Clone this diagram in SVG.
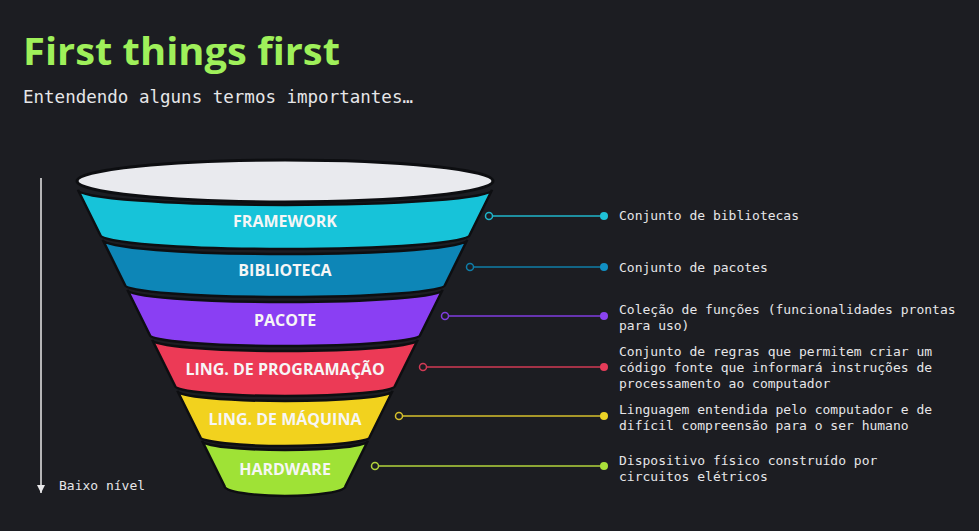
<svg xmlns="http://www.w3.org/2000/svg" width="979" height="531" viewBox="0 0 979 531">
<defs>
<style>
.band{stroke:#0d0e11;stroke-width:2.5;}
.lbl{font-family:"Open Sans","Noto Sans",sans-serif;font-weight:700;font-size:16px;fill:#f6f6f6;text-anchor:middle;}
.desc{font-family:"DejaVu Sans Mono","Liberation Mono",monospace;font-size:13px;fill:#e6e6e8;}
.ring{fill:#1c1d22;stroke-width:1.5;}
.ln{stroke-width:1.6;}
</style>
<marker id="ah" viewBox="0 0 10 10" refX="10" refY="5" markerWidth="10" markerHeight="8" markerUnits="userSpaceOnUse" orient="auto">
<path d="M0,0 L10,5 L0,10 Z" fill="#e8e8ea"/>
</marker>
</defs>
<rect width="979" height="531" fill="#1c1d22"/>
<text x="23" y="65" font-family="'Open Sans','Noto Sans',sans-serif" font-weight="700" font-size="38" fill="#9ff05a" textLength="317" lengthAdjust="spacingAndGlyphs">First things first</text>
<text x="23" y="103" font-family="'DejaVu Sans Mono','Liberation Mono',monospace" font-size="17" fill="#e6e6e8" textLength="390" lengthAdjust="spacingAndGlyphs">Entendendo alguns termos importantes…</text>

<g id="axis">
<line x1="41" y1="178" x2="41" y2="493" stroke="#e8e8ea" stroke-width="1.5" marker-end="url(#ah)"/>
<text x="59" y="490" class="desc">Baixo nível</text>
</g>

<g id="funnel-top">
<ellipse cx="285" cy="181" rx="208" ry="21" fill="#e9eaee" stroke="#0d0e11" stroke-width="3"/>
</g>
<g id="framework">
<path class="band" fill="#17c3d9" d="M78,190 A207,15 0 0 0 492,190 L469.7,235 A184.7,14 0 0 1 100.3,235 Z"/>
<text x="285" y="227" class="lbl">FRAMEWORK</text>
</g>
<g id="biblioteca">
<path class="band" fill="#0d86b7" d="M102.8,240 A182.2,14 0 0 0 467.2,240 L445,285 A160,12 0 0 1 125,285 Z"/>
<text x="285" y="276" class="lbl">BIBLIOTECA</text>
</g>
<g id="pacote">
<path class="band" fill="#8a3ff3" d="M127.5,290 A157.5,12 0 0 0 442.5,290 L420.2,335 A135.2,11 0 0 1 149.8,335 Z"/>
<text x="285" y="326" class="lbl">PACOTE</text>
</g>
<g id="ling-programacao">
<path class="band" fill="#ec3a56" d="M152.3,340 A132.7,11 0 0 0 417.7,340 L394.9,386 A109.9,10 0 0 1 175.1,386 Z"/>
<text x="285" y="375" class="lbl">LING. DE PROGRAMAÇÃO</text>
</g>
<g id="ling-maquina">
<path class="band" fill="#f2d21e" d="M177.5,391 A107.5,10 0 0 0 392.5,391 L369.7,437 A84.7,9 0 0 1 200.3,437 Z"/>
<text x="285" y="425" class="lbl">LING. DE MÁQUINA</text>
</g>
<g id="hardware">
<path class="band" fill="#9fe236" d="M202.2,441 A82.8,9 0 0 0 367.8,441 L345.5,486 A60.5,10 0 0 1 224.5,486 Z"/>
<text x="285" y="475" class="lbl">HARDWARE</text>
</g>

<g id="connectors">
<line class="ln" x1="492" y1="216" x2="604" y2="216" stroke="#1fb6cb"/>
<circle class="ring" cx="489" cy="216" r="3.5" stroke="#1fb6cb"/>
<circle cx="604" cy="216" r="4" fill="#1fc0d6"/>

<line class="ln" x1="473" y1="267" x2="604" y2="267" stroke="#0f7ea9"/>
<circle class="ring" cx="470" cy="267" r="3.5" stroke="#0f7ea9"/>
<circle cx="604" cy="267" r="4" fill="#1190c4"/>

<line class="ln" x1="448" y1="316" x2="604" y2="316" stroke="#7f3de0"/>
<circle class="ring" cx="445" cy="316" r="3.5" stroke="#7f3de0"/>
<circle cx="604" cy="316" r="4" fill="#8a43f0"/>

<line class="ln" x1="426" y1="367" x2="604" y2="367" stroke="#d23a55"/>
<circle class="ring" cx="423" cy="367" r="3.5" stroke="#d23a55"/>
<circle cx="604" cy="367" r="4" fill="#e53c59"/>

<line class="ln" x1="402" y1="416" x2="604" y2="416" stroke="#d6c12c"/>
<circle class="ring" cx="399" cy="416" r="3.5" stroke="#d6c12c"/>
<circle cx="604" cy="416" r="4" fill="#ecd426"/>

<line class="ln" x1="378" y1="466" x2="604" y2="466" stroke="#b3d43c"/>
<circle class="ring" cx="375" cy="466" r="3.5" stroke="#b3d43c"/>
<circle cx="604" cy="466" r="4" fill="#a9e03a"/>
</g>

<g id="descriptions">
<text x="619" y="220" class="desc">Conjunto de bibliotecas</text>
<text x="619" y="272" class="desc">Conjunto de pacotes</text>
<text x="619" y="314" class="desc">Coleção de funções (funcionalidades prontas</text>
<text x="619" y="330" class="desc">para uso)</text>
<text x="619" y="356" class="desc">Conjunto de regras que permitem criar um</text>
<text x="619" y="372" class="desc">código fonte que informará instruções de</text>
<text x="619" y="388" class="desc">processamento ao computador</text>
<text x="619" y="414" class="desc">Linguagem entendida pelo computador e de</text>
<text x="619" y="430" class="desc">difícil compreensão para o ser humano</text>
<text x="619" y="465" class="desc">Dispositivo físico construído por</text>
<text x="619" y="481" class="desc">circuitos elétricos</text>
</g>
</svg>
